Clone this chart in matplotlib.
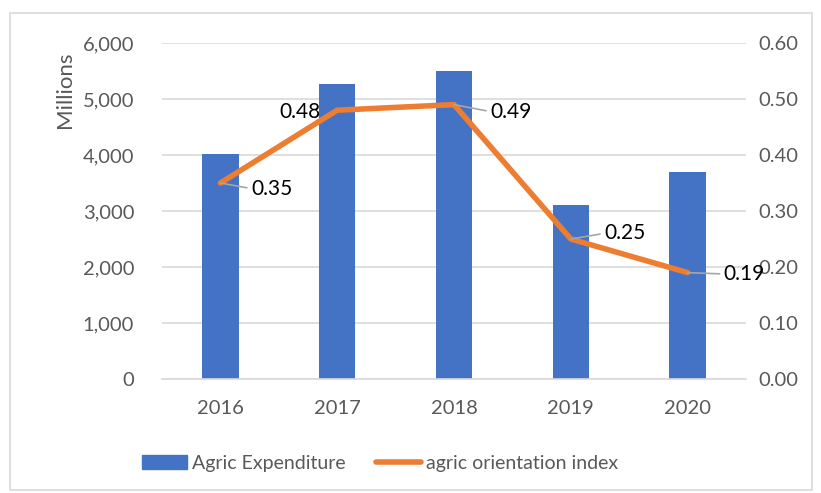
import matplotlib.pyplot as plt
import numpy as np
from matplotlib.patches import Rectangle
from matplotlib.lines import Line2D

plt.rcParams['font.family'] = ['Lato', 'DejaVu Sans']

years = ['2016', '2017', '2018', '2019', '2020']
expenditure = [4020, 5260, 5500, 3100, 3700]  # millions
orientation = [0.35, 0.48, 0.49, 0.25, 0.19]
label_offsets = [(22, -4), (-12, -1), (26, -5), (24, 4), (26, -1)]

blue = '#4472C4'
orange = '#ED7D31'
grey_txt = '#595959'

W, H = 821, 493
fig = plt.figure(figsize=(W / 100, H / 100), dpi=100)
ax = fig.add_axes([162 / W, 1 - 379 / H, (746 - 162) / W, (379 - 43) / H])
ax2 = ax.twinx()

x = np.arange(len(years))
ax.bar(x, expenditure, width=0.31, color=blue, zorder=2)
ax.set_xlim(-0.5, len(years) - 0.5)
ax.set_ylim(0, 6000)
ax.set_yticks(np.arange(0, 6001, 1000))
ax.set_yticklabels([f'{v:,}' for v in range(0, 6001, 1000)])
ax.set_xticks(x)
ax.set_xticklabels(years)
ax.yaxis.grid(True, color='#D9D9D9', linewidth=1.2, zorder=0)
ax.set_axisbelow(True)

ax2.plot(x, orientation, color=orange, linewidth=4, solid_capstyle='round', zorder=3)
ax2.set_ylim(0, 0.6)
ax2.set_yticks(np.arange(0, 0.61, 0.1))
ax2.set_yticklabels([f'{v:.2f}' for v in np.arange(0, 0.61, 0.1)])

for i, (v, off) in enumerate(zip(orientation, label_offsets)):
    if i == 1:
        ax2.annotate(f'{v:.2f}', xy=(i, v), xytext=off, textcoords='offset points',
                     ha='right', va='center', fontsize=15, color='black', zorder=4)
    else:
        ax2.annotate(f'{v:.2f}', xy=(i, v), xytext=off, textcoords='offset points',
                     ha='left', va='center', fontsize=15, color='black', zorder=4,
                     arrowprops=dict(arrowstyle='-', color='#A6A6A6', lw=1.2,
                                     shrinkA=1, shrinkB=0, relpos=(0, 0.5)))

for a in (ax, ax2):
    for s in a.spines.values():
        s.set_visible(False)
    a.tick_params(length=0, labelsize=14.5, labelcolor=grey_txt)
ax.spines['bottom'].set_visible(True)
ax.spines['bottom'].set_color('#D9D9D9')
ax.spines['bottom'].set_linewidth(1.2)
ax.tick_params(axis='x', pad=15)
ax.tick_params(axis='y', pad=20)
ax2.tick_params(axis='y', pad=9)

fig.text(65 / W, 1 - 90 / H, 'Millions', rotation=90, ha='center', va='center',
         fontsize=16, color=grey_txt)

handles = [Rectangle((0, 0), 1, 1, color=blue),
           Line2D([0], [0], color=orange, linewidth=4, solid_capstyle='round')]
fig.legend(handles, ['Agric Expenditure', 'agric orientation index'],
           loc='center', bbox_to_anchor=(380 / W, 1 - 463 / H), ncol=2, frameon=False,
           fontsize=14, labelcolor=grey_txt, handlelength=2.3, handletextpad=0.25,
           columnspacing=1.6)

fig.patches.append(Rectangle((10 / W, 1 - 490 / H), (812 - 10) / W, (490 - 13) / H,
                             transform=fig.transFigure, fill=False,
                             edgecolor='#D9D9D9', linewidth=1.2))

fig.savefig('out.png', dpi=100)
